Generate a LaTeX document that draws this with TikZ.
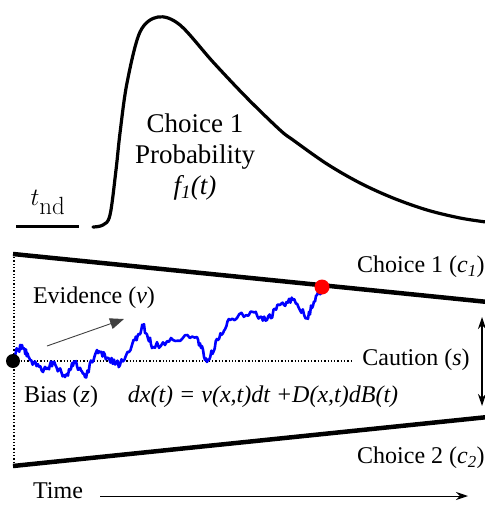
\documentclass[tikz,border=0pt]{standalone}
\usepackage[no-math]{fontspec}
\setmainfont{Liberation Serif}
\usetikzlibrary{arrows.meta}
\tikzset{
  txt/.style={inner sep=0pt, font=\fontsize{24}{29}\selectfont},
  bound/.style={line width=4.5pt},
  dots/.style={dotted, line width=1.3pt},
  walk/.style={blue, line width=2.6pt, line join=round},
}
\begin{document}
\begin{tikzpicture}[x=1pt,y=-1pt]
\useasboundingbox (0,0) rectangle (484,505);
% density curve
\draw[line width=3.2pt, line cap=round, line join=round] plot[smooth, tension=0.55] coordinates {
 (93,227) (103,225) (110,215) (116,170) (120,133) (127,83) (140,32) (158,17) (180,25)
 (213,62) (247,98) (280,130) (293,140) (327,164) (360,183) (393,198) (427,210) (460,218) (486,222)};
\node[txt, align=center, font=\fontsize{27}{31}\selectfont] (prob) at (195,157) {Choice 1\\Probability\\\textit{f\textsubscript{1}(t)}};
% t_nd
\node[inner sep=0pt, font=\fontsize{42}{44}\selectfont] (tnd) at (48,202) {$t_{\mathrm{nd}}$};
\coordinate (tndA) at (16,226);
\coordinate (tndB) at (79,226);
\draw[line width=3pt] (tndA) -- (tndB);
% boundaries
\coordinate (u1) at (13,254);
\coordinate (u2) at (488,302);
\coordinate (l1) at (13,466);
\coordinate (l2) at (488,417);
\draw[bound] (u1) -- (u2);
\draw[bound] (l1) -- (l2);
% dotted guides
\coordinate (va) at (14,257);
\coordinate (vb) at (14,463);
\coordinate (ha) at (14,361);
\coordinate (hb) at (352,361);
\draw[dots] (va) -- (vb);
\draw[dots] (ha) -- (hb);
% random walk
\pgfmathsetseed{12}
\draw[walk] (13,356) \foreach \px/\py [remember=\px as \lx (initially 13), remember=\py as \ly (initially 356)] in
 {22/345,30/360,43/372,53/362,65/377,75/362,85/377,97/350,108/358,120/365,135/340,143/325,153/347,173/340,197/337,207/362,218/340,230/320,253/312,267/320,280/305,293/300,307/318,317/295,323/288}
 { \foreach \k in {1,...,10} { -- ({\lx+(\px-\lx)*\k/10},{\ly+(\py-\ly)*\k/10+(\k<10)*3.5*rand}) } };
% dots
\fill[black] (13,361) circle (7);
\node[circle, fill=red, minimum size=15pt, inner sep=0pt] (hit) at (322,287) {};
% evidence arrow
\coordinate (ea) at (47,346);
\coordinate (eb) at (124,319);
\draw[line width=0.9pt, draw=black!75, -{Triangle[length=14pt,width=11pt]}] (ea) -- (eb);
% labels
\node[txt] (ev) at (94,298) {Evidence (\textit{v})};
\node[txt] (bias) at (61,397) {Bias (\textit{z})};
\node[txt] (eq) at (263,397) {\textit{dx(t) = v(x,t)dt +D(x,t)dB(t)}};
\node[txt] (caut) at (416,360) {Caution (\textit{s})};
\node[txt, anchor=west] (c1) at (357,267) {Choice 1 (\textit{c\textsubscript{1}})};
\node[txt, anchor=west] (c2) at (357,458) {Choice 2 (\textit{c\textsubscript{2}})};
% caution double arrow
\coordinate (sa) at (482,317);
\coordinate (sb) at (482,406);
\draw[line width=1.2pt, {Stealth[length=12pt,width=8pt]}-{Stealth[length=12pt,width=8pt]}] (sa) -- (sb);
% time
\node[txt] (time) at (58,491) {Time};
\coordinate (ta) at (100,496);
\coordinate (tb) at (468,496);
\draw[line width=1pt, -{Stealth[length=12pt,width=8pt]}] (ta) -- (tb);
\end{tikzpicture}
\end{document}
